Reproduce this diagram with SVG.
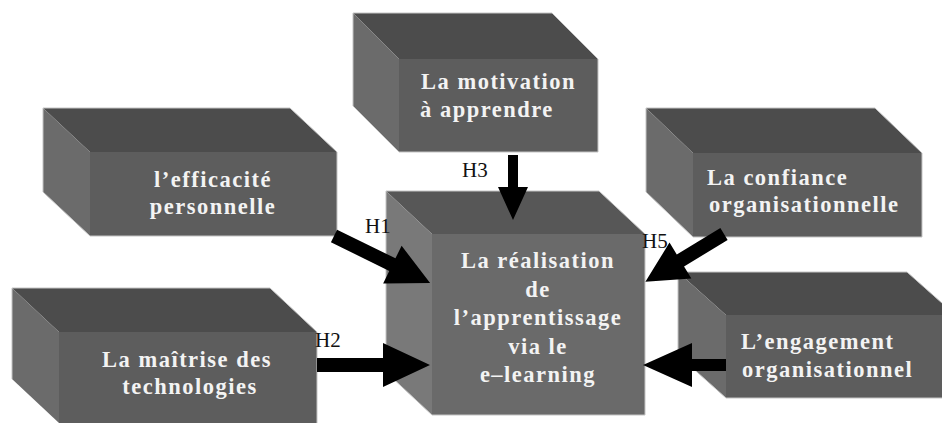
<svg xmlns="http://www.w3.org/2000/svg" width="942" height="423" viewBox="0 0 942 423">
<style>
.top{fill:#4c4c4c}
.front{fill:#5d5d5d}
.side{fill:#6b6b6b}
.ctop{fill:#575757}
.cfront{fill:#6a6a6a}
.cside{fill:#797979}
.edge{fill:none;stroke:#c4c4c4;stroke-width:1}
.t{font-family:"Liberation Serif","Times New Roman",serif;font-weight:bold;font-size:22.5px;letter-spacing:1.5px;fill:#f3f3f3}
.c{text-anchor:middle}
.h{font-family:"Liberation Serif","Times New Roman",serif;font-size:21px;fill:#111}
.arr{fill:#000}
</style>
<rect width="942" height="423" fill="#fff"/>

<g id="efficacite">
<polygon class="top" points="43,108 290,108 337,152 90,152"/>
<polygon class="side" points="43,108 90,152 90,236 43,192"/>
<rect class="front" x="90" y="152" width="247" height="84"/>
<path class="edge" d="M43,108 H290 L337,152 V236 H90 L43,192 Z"/>
<text class="t c" x="213" y="187">l’efficacité</text>
<text class="t c" x="213" y="214">personnelle</text>
</g>

<g id="motivation">
<polygon class="top" points="353,13 552,13 598,59 399,59"/>
<polygon class="side" points="353,13 399,59 399,152 353,106"/>
<rect class="front" x="399" y="59" width="199" height="93"/>
<path class="edge" d="M353,13 H552 L598,59 V152 H399 L353,106 Z"/>
<text class="t" x="421" y="89">La motivation</text>
<text class="t" x="420" y="117">à apprendre</text>
</g>

<g id="confiance">
<polygon class="top" points="646,108 875,108 922,153 693,153"/>
<polygon class="side" points="646,108 693,153 693,237 646,192"/>
<rect class="front" x="693" y="153" width="229" height="84"/>
<path class="edge" d="M646,108 H875 L922,153 V237 H693 L646,192 Z"/>
<text class="t" x="707" y="185">La confiance</text>
<text class="t" x="709" y="212">organisationnelle</text>
</g>

<g id="maitrise">
<polygon class="top" points="12,288 270,288 317,332 59,332"/>
<polygon class="side" points="12,288 59,332 59,423 12,379"/>
<rect class="front" x="59" y="332" width="258" height="91"/>
<path class="edge" d="M12,379 V288 H270 L317,332 V423"/>
<text class="t c" x="187" y="367">La maîtrise des</text>
<text class="t c" x="190" y="394">technologies</text>
</g>

<g id="realisation">
<polygon class="ctop" points="386,191 599,191 645,234 432,234"/>
<polygon class="cside" points="386,191 432,234 432,415 386,372"/>
<rect class="cfront" x="432" y="234" width="213" height="181"/>
<path class="edge" d="M386,191 H599 L645,234 V415 H432 L386,372 Z"/>
<text class="t c" x="538" y="268">La réalisation</text>
<text class="t c" x="538" y="297">de</text>
<text class="t c" x="538" y="325">l’apprentissage</text>
<text class="t c" x="538" y="354">via le</text>
<text class="t c" x="538" y="382">e–learning</text>
</g>

<g id="engagement">
<polygon class="top" points="678,272 907,272 955,315 726,315"/>
<polygon class="side" points="678,272 726,315 726,398 678,355"/>
<rect class="front" x="726" y="315" width="229" height="83"/>
<path class="edge" d="M942,303 L907,272 H678 V355 L726,398 H942"/>
<text class="t" x="741" y="349">L’engagement</text>
<text class="t" x="742" y="377">organisationnel</text>
</g>

<g id="connectors">
<polygon class="arr" transform="translate(334,236) rotate(26.1)" points="0,-7 65,-7 65,-21 107,0 65,21 65,7 0,7"/>
<polygon class="arr" transform="translate(317,365)" points="0,-7 66,-7 66,-22 113,0 66,22 66,7 0,7"/>
<polygon class="arr" transform="translate(513,155) rotate(90)" points="0,-5 32,-5 32,-15 65,0 32,15 32,5 0,5"/>
<polygon class="arr" transform="translate(724,234) rotate(148.7)" points="0,-7 51,-7 51,-21 92,0 51,21 51,7 0,7"/>
<polygon class="arr" transform="translate(726,365) rotate(180)" points="0,-6 34,-6 34,-22 83,0 34,22 34,6 0,6"/>
<text class="h" x="365" y="233">H1</text>
<text class="h" x="315" y="347">H2</text>
<text class="h" x="462" y="177">H3</text>
<text class="h" x="642" y="248">H5</text>
</g>
</svg>
